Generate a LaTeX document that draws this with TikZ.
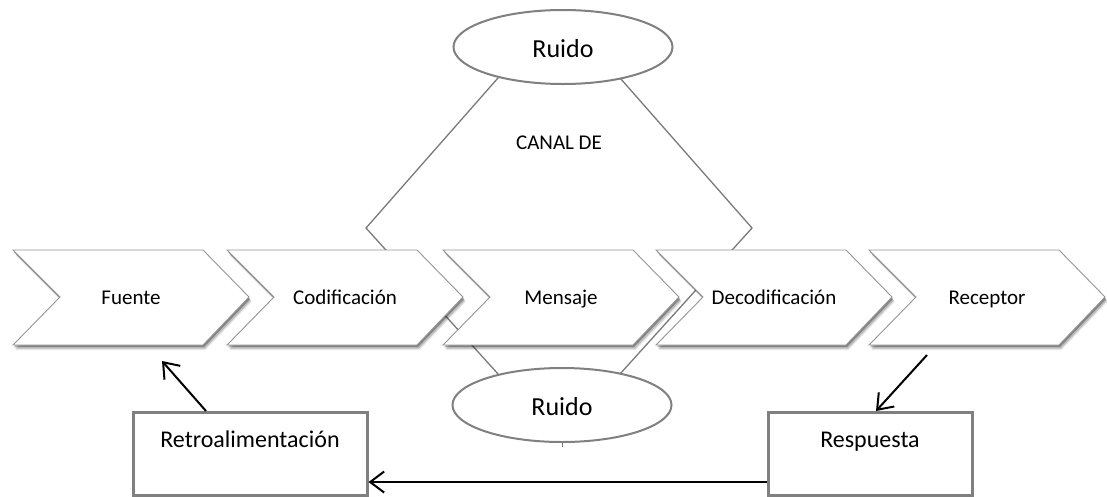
\documentclass[tikz,border=0pt]{standalone}
\usepackage{fontspec}
\setmainfont{Carlito}
\usetikzlibrary{shapes.geometric,shadows,arrows.meta}
\definecolor{hexgray}{HTML}{7A7A7A}
\definecolor{chevgray}{HTML}{959595}
\definecolor{boxgray}{HTML}{808080}
\begin{document}
\begin{tikzpicture}[x=1pt,y=-1pt,
  hexline/.style={draw=hexgray, line width=1.3pt},
  chevshape/.style={draw=chevgray, line width=0.9pt, fill=white,
    drop shadow={shadow xshift=2.5pt, shadow yshift=-5pt, opacity=0.10, fill=black},
    drop shadow={shadow xshift=2pt, shadow yshift=-3.5pt, opacity=0.18, fill=black},
    drop shadow={shadow xshift=1pt, shadow yshift=-2pt, opacity=0.30, fill=black}},
  chevtext/.style={font=\fontsize{21}{25}\selectfont, inner sep=0pt, anchor=base},
  ruidonode/.style={ellipse, draw=boxgray, line width=2pt, fill=white,
    minimum width=219pt, minimum height=74pt, inner sep=0pt,
    text height=20pt, text depth=0pt,
    font=\fontsize{26}{30}\selectfont},
  boxnode/.style={rectangle, draw=boxgray, line width=3pt, fill=white,
    inner sep=0pt, text height=35pt, text depth=48pt, anchor=north,
    font=\fontsize{24}{28}\selectfont},
  arr/.style={draw=black, line width=2pt,
    -{Straight Barb[length=14pt, width=21pt, line width=2pt]}}
]
\useasboundingbox (0,0) rectangle (1107,496);
% channel hexagon
\draw[hexline] (505,70) -- (613,70) -- (752,228) -- (610,385) -- (508,385) -- (366,228) -- cycle;
\node[font=\fontsize{21}{25}\selectfont] (canal) at (559,143) {CANAL DE};
% chevrons
\newcommand{\chevron}[3]{%
  \path[chevshape] (#1,250) -- ++(190,0) -- ++(46,47) -- ++(-46,48) -- ++(-190,0) -- ++(47,-48) -- cycle;
  \node[chevtext] (#2) at ({#1+118},304) {#3};}
\chevron{13}{fuente}{Fuente}
\chevron{227}{codif}{Codificación}
\chevron{443}{mensaje}{Mensaje}
\chevron{656}{decodif}{Decodificación}
\chevron{869}{receptor}{Receptor}
% noise ellipses
\node[ruidonode] (ruidoA) at (563,47) {Ruido};
\node[ruidonode] (ruidoB) at (562,405) {Ruido};
\draw[hexgray, line width=1pt] (ruidoB.south) -- ++(0,4);
% boxes
\node[boxnode, minimum width=234pt] (retro) at (250,411) {Retroalimentación};
\node[boxnode, minimum width=204pt] (resp) at (870,411) {Respuesta};
% arrows
\coordinate (fuenteEnd) at (162,361);
\coordinate (receptorStart) at (927,355);
\draw[arr] ([xshift=-44pt]retro.north) -- (fuenteEnd);
\draw[arr] (receptorStart) -- ([xshift=6pt]resp.north);
\draw[arr] ([yshift=15pt]resp.south west) -- ([yshift=15pt]retro.south east);
\end{tikzpicture}
\end{document}
